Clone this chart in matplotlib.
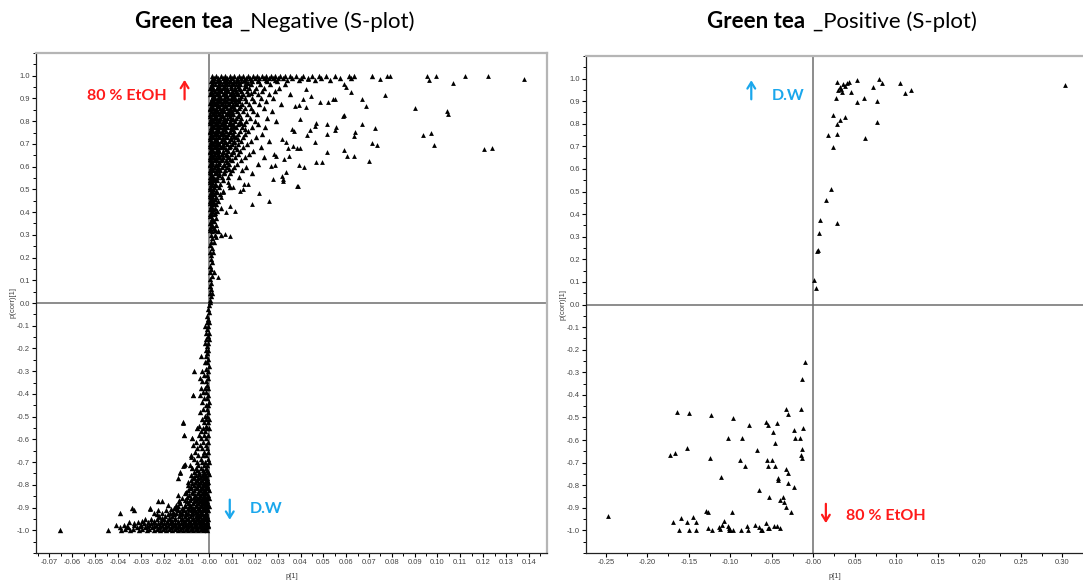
import matplotlib
matplotlib.use("Agg")
import matplotlib.pyplot as plt
from matplotlib.ticker import MultipleLocator, FixedLocator, FuncFormatter
import numpy as np

plt.rcParams['font.family'] = ['Liberation Sans', 'DejaVu Sans']

# ---------------- Negative mode: p[1] vs p(corr)[1] ----------------
# dense part of the S, read row by row as (p(corr)[1], [p[1] values])
neg_upper_rows = [
    (1.000, [.0010, .0030, .0050, .0070, .0090, .0110, .0130, .0150, .0170, .0190, .0210, .0230, .0250,
             .0270, .0290, .0310, .0330, .0355, .0382, .0410, .0450, .0483, .0512, .0550, .0612, .0634, .0712]),
    (0.991, [.0020, .0040, .0060, .0080, .0100, .0120, .0140, .0160, .0180, .0200, .0220, .0240, .0260,
             .0280, .0300, .0322, .0361, .0402, .0434, .0491, .0573, .0620]),
    (0.983, [.0012, .0041, .0068, .0093, .0121, .0152, .0181, .0213, .0249, .0288, .0339, .0392, .0462, .0528]),
    (0.975, [.0007, .0021, .0035, .0049, .0063, .0078, .0092, .0108, .0124, .0141, .0163, .0188, .0215, .0251, .0297]),
    (0.962, [.0012, .0026, .0041, .0056, .0070, .0086, .0101, .0119, .0137, .0158, .0182, .0224, .0268, .0331]),
    (0.948, [.0005, .0018, .0033, .0047, .0061, .0077, .0095, .0113, .0129, .0152, .0176, .0203, .0242, .0305]),
    (0.933, [.0009, .0024, .0039, .0053, .0068, .0084, .0099, .0118, .0141, .0167, .0196, .0231, .0288]),
    (0.918, [.0004, .0016, .0030, .0045, .0060, .0074, .0090, .0107, .0126, .0149, .0171, .0212, .0263, .0352]),
    (0.903, [.0011, .0025, .0038, .0052, .0066, .0081, .0097, .0115, .0135, .0158, .0189, .0226, .0279]),
    (0.889, [.0006, .0019, .0034, .0048, .0063, .0079, .0094, .0112, .0132, .0161, .0198, .0247]),
    (0.874, [.0010, .0023, .0037, .0051, .0067, .0083, .0104, .0121, .0144, .0173, .0219, .0316]),
    (0.860, [.0005, .0017, .0031, .0046, .0061, .0076, .0092, .0109, .0129, .0155, .0184, .0238]),
    (0.845, [.0009, .0022, .0036, .0050, .0066, .0085, .0101, .0123, .0147, .0192, .0274]),
    (0.831, [.0004, .0015, .0029, .0043, .0058, .0072, .0088, .0106, .0131, .0166, .0209]),
    (0.816, [.0008, .0021, .0034, .0049, .0064, .0080, .0097, .0117, .0140, .0178, .0253]),
    (0.802, [.0005, .0018, .0031, .0045, .0060, .0075, .0093, .0112, .0137, .0161, .0199, .0291]),
    (0.787, [.0010, .0024, .0038, .0053, .0069, .0086, .0104, .0128, .0152, .0214]),
    (0.773, [.0006, .0019, .0033, .0047, .0062, .0079, .0096, .0119, .0143, .0186, .0245]),
    (0.758, [.0003, .0015, .0028, .0042, .0057, .0073, .0090, .0110, .0134, .0171]),
    (0.744, [.0008, .0021, .0035, .0050, .0066, .0083, .0102, .0126, .0158, .0232]),
    (0.729, [.0005, .0017, .0031, .0045, .0060, .0077, .0095, .0117, .0149, .0203]),
    (0.715, [.0009, .0022, .0036, .0051, .0068, .0088, .0109, .0138, .0181, .0262]),
    (0.700, [.0004, .0016, .0029, .0044, .0059, .0076, .0098, .0124, .0167]),
    (0.686, [.0008, .0020, .0034, .0049, .0066, .0085, .0111, .0146, .0226]),
    (0.671, [.0005, .0017, .0030, .0045, .0062, .0081, .0104, .0137, .0193]),
    (0.657, [.0009, .0022, .0037, .0054, .0072, .0094, .0125, .0176]),
    (0.642, [.0004, .0015, .0029, .0044, .0061, .0083, .0112, .0158, .0241]),
    (0.628, [.0007, .0020, .0035, .0052, .0073, .0099, .0139]),
    (0.613, [.0003, .0014, .0028, .0043, .0063, .0088, .0121, .0214]),
    (0.599, [.0008, .0021, .0037, .0056, .0079, .0108, .0162]),
    (0.584, [.0004, .0016, .0031, .0049, .0071, .0098, .0142]),
    (0.570, [.0009, .0024, .0042, .0063, .0091, .0187]),
    (0.555, [.0005, .0018, .0035, .0056, .0083, .0129]),
    (0.540, [.0003, .0016, .0034, .0061]),
    (0.525, [.0008, .0025, .0049]),
    (0.510, [.0004, .0019, .0042, .0089]),
    (0.495, [.0011, .0031, .0062]),
    (0.480, [.0005, .0022, .0047]),
    (0.465, [.0009, .0028]),
    (0.450, [.0003, .0018, .0039]),
    (0.435, [.0012, .0031]),
    (0.420, [.0006, .0024, .0052]),
    (0.405, [.0010, .0036]),
    (0.390, [.0004, .0021]),
    (0.375, [.0013, .0030]),
    (0.360, [.0007, .0022]),
    (0.345, [.0011, .0028]),
    (0.330, [.0005, .0019]),
    (0.315, [.0012, .0038]),
    (0.300, [.0006, .0027, .0051]),
    (0.285, [.0014]),
    (0.270, [.0008, .0022]),
    (0.255, [.0005]),
    (0.240, [.0011]),
    (0.225, [.0004, .0016]),
    (0.210, [.0009]),
    (0.195, [.0006]),
    (0.180, [.0012]),
    (0.165, [.0004]),
    (0.150, [.0008]),
    (0.135, [.0005, .0019]),
    (0.120, [.0011]),
    (0.105, [.0003]),
    (0.090, [.0007]),
    (0.075, [.0004]),
    (0.060, [.0009]),
    (0.045, [.0005, .0012]),
    (0.030, [.0008]),
    (0.015, [.0002]),
    (0.005, [.0004]),
]

# the blackest part near p[1] = 0, rows lying between the rows above
neg_upper_fill = [
    (0.968, [.0014, .0044, .0073, .0102, .0131, .0171]),
    (0.955, [.0008, .0039, .0066, .0094, .0126, .0160]),
    (0.940, [.0016, .0046, .0075, .0108, .0134]),
    (0.926, [.0010, .0038, .0067, .0100, .0121, .0185]),
    (0.910, [.0018, .0045, .0073, .0104, .0141]),
    (0.896, [.0013, .0041, .0071, .0102, .0125]),
    (0.881, [.0003, .0030, .0058, .0087, .0116]),
    (0.867, [.0011, .0040, .0070, .0099, .0137]),
    (0.852, [.0002, .0028, .0057, .0093, .0115]),
    (0.838, [.0015, .0043, .0076, .0096]),
    (0.823, [.0002, .0027, .0056, .0089, .0125]),
    (0.809, [.0012, .0041, .0071, .0105]),
    (0.794, [.0003, .0031, .0061, .0095, .0140]),
    (0.780, [.0013, .0040, .0070, .0108]),
    (0.765, [.0009, .0036, .0065, .0100, .0155]),
    (0.751, [.0002, .0028, .0058, .0092]),
    (0.736, [.0012, .0041, .0072, .0108]),
    (0.722, [.0002, .0029, .0059, .0097, .0124]),
    (0.707, [.0010, .0037, .0068, .0110]),
    (0.693, [.0002, .0027, .0057, .0092]),
    (0.678, [.0011, .0039, .0072, .0121]),
    (0.664, [.0002, .0028, .0062, .0104]),
    (0.650, [.0011, .0041, .0076]),
    (0.635, [.0002, .0027, .0055, .0091]),
    (0.620, [.0011, .0042, .0080]),
    (0.606, [.0002, .0029, .0064]),
    (0.591, [.0011, .0040, .0087]),
    (0.577, [.0002, .0030, .0066]),
    (0.562, [.0012, .0044]),
    (0.547, [.0009, .0026]),
    (0.532, [.0002, .0014]),
    (0.518, [.0010, .0028]),
    (0.502, [.0002, .0015]),
    (0.488, [.0009, .0034]),
    (0.472, [.0002, .0014]),
    (0.457, [.0008, .0025]),
    (0.442, [.0002, .0019]),
    (0.428, [.0008]),
    (0.412, [.0002, .0015]),
    (0.397, [.0008, .0027]),
    (0.382, [.0003]),
    (0.367, [.0014]),
    (0.352, [.0004]),
    (0.337, [.0009]),
    (0.322, [.0003, .0024]),
]

neg_lower_rows = [
    (-0.010, [-.0003]),
    (-0.025, [-.0006]),
    (-0.040, [-.0002]),
    (-0.055, [-.0008]),
    (-0.070, [-.0004]),
    (-0.085, [-.0011, -.0002]),
    (-0.100, [-.0019, -.0006]),
    (-0.115, [-.0009]),
    (-0.130, [-.0014, -.0003]),
    (-0.145, [-.0007]),
    (-0.160, [-.0012, -.0002]),
    (-0.175, [-.0017, -.0006]),
    (-0.190, [-.0010]),
    (-0.205, [-.0015, -.0004]),
    (-0.220, [-.0008]),
    (-0.232, [-.0037, -.0013]),
    (-0.245, [-.0005]),
    (-0.260, [-.0018, -.0009]),
    (-0.275, [-.0003]),
    (-0.290, [-.0014]),
    (-0.299, [-.0066, -.0032, -.0007]),
    (-0.315, [-.0024, -.0011]),
    (-0.330, [-.0042, -.0004]),
    (-0.345, [-.0030, -.0015]),
    (-0.360, [-.0009]),
    (-0.375, [-.0036, -.0019, -.0004]),
    (-0.390, [-.0027, -.0012]),
    (-0.405, [-.0073, -.0040, -.0006]),
    (-0.420, [-.0021, -.0010]),
    (-0.435, [-.0033, -.0003]),
    (-0.450, [-.0016, -.0007]),
    (-0.465, [-.0028, -.0011]),
    (-0.480, [-.0041, -.0004]),
    (-0.495, [-.0019, -.0008]),
    (-0.510, [-.0032, -.0013, -.0002]),
    (-0.525, [-.0117, -.0025, -.0006]),
    (-0.540, [-.0044, -.0015]),
    (-0.551, [-.0052, -.0029, -.0009, -.0003]),
    (-0.565, [-.0037, -.0018]),
    (-0.580, [-.0111, -.0046, -.0023, -.0007]),
    (-0.596, [-.0076, -.0034, -.0012]),
    (-0.610, [-.0058, -.0026, -.0005]),
    (-0.625, [-.0069, -.0041, -.0016]),
    (-0.640, [-.0053, -.0031, -.0009]),
    (-0.655, [-.0062, -.0022, -.0004]),
    (-0.670, [-.0079, -.0047, -.0028, -.0013]),
    (-0.685, [-.0066, -.0038, -.0007]),
    (-0.700, [-.0055, -.0032, -.0018, -.0003]),
    (-0.712, [-.0112, -.0084, -.0049, -.0025, -.0010]),
    (-0.728, [-.0076, -.0059, -.0036, -.0015]),
    (-0.744, [-.0127, -.0068, -.0044, -.0021, -.0006]),
    (-0.758, [-.0081, -.0057, -.0032, -.0012]),
    (-0.772, [-.0139, -.0073, -.0048, -.0027, -.0008]),
    (-0.786, [-.0091, -.0062, -.0039, -.0017, -.0004]),
    (-0.801, [-.0092, -.0067, -.0044, -.0024, -.0011]),
    (-0.816, [-.0084, -.0058, -.0034, -.0016, -.0005]),
    (-0.830, [-.0103, -.0076, -.0051, -.0029, -.0012]),
    (-0.846, [-.0139, -.0088, -.0063, -.0041, -.0021, -.0007]),
    (-0.860, [-.0118, -.0079, -.0055, -.0033, -.0015, -.0003]),
    (-0.871, [-.0226, -.0209, -.0131, -.0097, -.0068, -.0046, -.0026, -.0010]),
    (-0.887, [-.0179, -.0147, -.0108, -.0084, -.0059, -.0037, -.0018, -.0006]),
    (-0.900, [-.0337, -.0258, -.0156, -.0121, -.0093, -.0071, -.0049, -.0029, -.0012]),
    (-0.912, [-.0330, -.0224, -.0189, -.0137, -.0109, -.0082, -.0061, -.0040, -.0021, -.0007]),
    (-0.924, [-.0389, -.0242, -.0205, -.0171, -.0146, -.0118, -.0094, -.0072, -.0051, -.0032, -.0014]),
    (-0.937, [-.0218, -.0193, -.0162, -.0134, -.0106, -.0083, -.0060, -.0041, -.0023, -.0008]),
    (-0.950, [-.0282, -.0256, -.0227, -.0198, -.0174, -.0149, -.0124, -.0101, -.0077, -.0056, -.0036,
              -.0018, -.0004]),
    (-0.963, [-.0353, -.0311, -.0268, -.0241, -.0213, -.0186, -.0161, -.0137, -.0113, -.0090, -.0068,
              -.0047, -.0027, -.0011]),
    (-0.975, [-.0408, -.0372, -.0329, -.0297, -.0262, -.0234, -.0207, -.0180, -.0155, -.0131, -.0108,
              -.0085, -.0063, -.0042, -.0022, -.0006]),
    (-0.987, [-.0391, -.0354, -.0318, -.0283, -.0251, -.0222, -.0195, -.0169, -.0144, -.0120, -.0097,
              -.0074, -.0052, -.0031, -.0013]),
    (-0.998, [-.0652, -.0443, -.0386, -.0345, -.0306, -.0274, -.0243, -.0214, -.0188, -.0162, -.0138,
              -.0114, -.0091, -.0069, -.0047, -.0026, -.0008]),
]

neg_lower_fill = [
    (-0.736, [-.0052, -.0028, -.0009]),
    (-0.751, [-.0045, -.0025, -.0003]),
    (-0.765, [-.0066, -.0040, -.0019]),
    (-0.779, [-.0081, -.0052, -.0030, -.0010]),
    (-0.794, [-.0076, -.0049, -.0028, -.0008]),
    (-0.808, [-.0079, -.0055, -.0033, -.0015]),
    (-0.823, [-.0095, -.0068, -.0040, -.0021, -.0003]),
    (-0.838, [-.0108, -.0072, -.0050, -.0030, -.0012]),
    (-0.853, [-.0098, -.0068, -.0046, -.0025, -.0009]),
    (-0.866, [-.0108, -.0086, -.0057, -.0036, -.0019]),
    (-0.880, [-.0128, -.0095, -.0071, -.0049, -.0027, -.0011]),
    (-0.894, [-.0135, -.0104, -.0081, -.0060, -.0039, -.0021, -.0003]),
    (-0.906, [-.0168, -.0143, -.0114, -.0088, -.0066, -.0044, -.0025, -.0009]),
    (-0.918, [-.0158, -.0127, -.0102, -.0077, -.0056, -.0035, -.0016]),
    (-0.930, [-.0230, -.0182, -.0155, -.0125, -.0100, -.0077, -.0055, -.0034, -.0015]),
    (-0.944, [-.0205, -.0178, -.0148, -.0120, -.0094, -.0070, -.0048, -.0029, -.0012]),
    (-0.957, [-.0295, -.0241, -.0211, -.0185, -.0161, -.0136, -.0111, -.0088, -.0066, -.0045, -.0026,
              -.0008]),
    (-0.969, [-.0331, -.0287, -.0253, -.0226, -.0199, -.0173, -.0148, -.0124, -.0101, -.0078, -.0056,
              -.0035, -.0016]),
    (-0.981, [-.0360, -.0305, -.0272, -.0244, -.0216, -.0189, -.0163, -.0138, -.0114, -.0091, -.0068,
              -.0046, -.0025, -.0007]),
    (-0.993, [-.0370, -.0334, -.0296, -.0262, -.0231, -.0203, -.0176, -.0150, -.0126, -.0103, -.0080,
              -.0058, -.0036, -.0017]),
]

# sparse points away from the dense branch, (p[1], p(corr)[1])
neg_scatter = [
    (0.0747, 0.984), (0.0778, 1.0), (0.0790, 1.0), (0.0953, 1.0), (0.0965, 0.981), (0.0992, 1.0),
    (0.1070, 0.969), (0.1120, 1.0), (0.1220, 1.0), (0.1380, 0.984),
    (0.0771, 0.916), (0.0902, 0.859), (0.1044, 0.843), (0.1047, 0.832), (0.0938, 0.740), (0.0973, 0.746),
    (0.0987, 0.696), (0.1206, 0.678), (0.1237, 0.682),
    (0.0728, 0.772), (0.0736, 0.697), (0.0715, 0.704), (0.0699, 0.625), (0.0687, 0.869), (0.0668, 0.896),
    (0.0668, 0.788), (0.0639, 0.751), (0.0633, 0.737), (0.0633, 0.649), (0.0604, 0.649), (0.0589, 0.672),
    (0.0623, 0.928), (0.0598, 0.950), (0.0589, 0.965),
    (0.0541, 0.896), (0.0550, 0.896), (0.0519, 0.884), (0.0484, 0.884), (0.0514, 0.788), (0.0517, 0.744),
    (0.0549, 0.763), (0.0554, 0.774), (0.0584, 0.825), (0.0590, 0.828), (0.0516, 0.666), (0.0494, 0.619),
    (0.0470, 0.619), (0.0462, 0.707), (0.0462, 0.781), (0.0467, 0.793), (0.0440, 0.763), (0.0430, 0.740),
    (0.0422, 0.943), (0.0434, 0.987), (0.0411, 0.899), (0.0446, 0.913), (0.0392, 0.872), (0.0424, 0.862),
    (0.0399, 0.810), (0.0415, 0.600), (0.0392, 0.609), (0.0391, 0.513), (0.0377, 0.869), (0.0364, 0.766),
    (0.0372, 0.759), (0.0345, 0.682), (0.0367, 0.693), (0.0383, 0.682), (0.0396, 0.682), (0.0320, 0.722),
    (0.0335, 0.707), (0.0328, 0.634), (0.0351, 0.649), (0.0335, 0.578), (0.0320, 0.560), (0.0323, 0.538),
    (0.0294, 0.649), (0.0282, 0.656), (0.0272, 0.604), (0.0288, 0.607),
    (0.0386, 0.515), (0.0323, 0.547), (0.0279, 0.547), (0.0261, 0.451), (0.0220, 0.482), (0.0188, 0.437),
    (0.0169, 0.525), (0.0154, 0.525), (0.0135, 0.491), (0.0147, 0.500), (0.0115, 0.407), (0.0073, 0.400),
    (0.0091, 0.429), (0.0088, 0.518), (0.0103, 0.510), (0.0081, 0.532), (0.0051, 0.466), (0.0059, 0.488),
    (0.0070, 0.304), (0.0093, 0.297), (0.0037, 0.319), (0.0029, 0.290), (0.0037, 0.116),
    (-0.0073, -0.404), (-0.0117, -0.526), (-0.0111, -0.581), (-0.0076, -0.596), (-0.0052, -0.551),
    (-0.0108, -0.709), (-0.0116, -0.716), (-0.0127, -0.750), (-0.0079, -0.676), (-0.0076, -0.728),
    (-0.0131, -0.868), (-0.0147, -0.897), (-0.0258, -0.907), (-0.0218, -0.941),
]

# ---------------- Positive mode ----------------
pos_upper = [
    (0.028, 0.985), (0.032, 0.962), (0.030, 0.951), (0.035, 0.940), (0.040, 0.981), (0.043, 0.984),
    (0.038, 0.969), (0.045, 0.940), (0.053, 0.993), (0.072, 0.962), (0.079, 0.999), (0.083, 0.981),
    (0.105, 0.981), (0.111, 0.937), (0.118, 0.950), (0.027, 0.915), (0.061, 0.915), (0.053, 0.897),
    (0.077, 0.900), (0.024, 0.838), (0.038, 0.829), (0.032, 0.816), (0.028, 0.801), (0.077, 0.806),
    (0.018, 0.749), (0.028, 0.756), (0.062, 0.735), (0.024, 0.699), (0.303, 0.972), (0.033, 0.955),
    (0.036, 0.975),
    (0.021, 0.512), (0.015, 0.464), (0.0084, 0.374), (0.029, 0.362), (0.0071, 0.317), (0.0059, 0.240),
    (0.0046, 0.235), (0.0008, 0.107), (0.0038, 0.075),
]

pos_lower = [
    (-0.010, -0.254), (-0.0139, -0.331),
    (-0.2475, -0.938), (-0.164, -0.474), (-0.1496, -0.481), (-0.1235, -0.487), (-0.0966, -0.503),
    (-0.078, -0.533), (-0.0571, -0.518), (-0.0546, -0.533), (-0.0433, -0.523), (-0.0324, -0.464),
    (-0.0303, -0.484), (-0.0143, -0.461), (-0.013, -0.545), (-0.0231, -0.554), (-0.0487, -0.564),
    (-0.0466, -0.614), (-0.1034, -0.593), (-0.0857, -0.592), (-0.0227, -0.593), (-0.016, -0.592),
    (-0.1727, -0.666), (-0.1672, -0.656), (-0.1517, -0.635), (-0.1244, -0.679), (-0.0685, -0.644),
    (-0.0559, -0.688), (-0.0504, -0.687), (-0.0546, -0.716), (-0.0458, -0.715), (-0.0878, -0.690),
    (-0.0824, -0.715), (-0.0143, -0.664), (-0.0134, -0.641), (-0.0134, -0.679), (-0.0328, -0.726),
    (-0.0311, -0.744), (-0.1118, -0.763), (-0.0424, -0.769), (-0.042, -0.778), (-0.0311, -0.790),
    (-0.0231, -0.806), (-0.066, -0.821), (-0.0529, -0.852), (-0.0361, -0.851), (-0.0349, -0.876),
    (-0.0403, -0.865), (-0.0324, -0.898), (-0.0269, -0.918), (-0.1294, -0.916), (-0.1269, -0.918),
    (-0.0979, -0.918), (-0.1697, -0.961), (-0.159, -0.945), (-0.1517, -0.961), (-0.1445, -0.939),
    (-0.1416, -0.961), (-0.1622, -0.997), (-0.1504, -0.998), (-0.1412, -0.997), (-0.1265, -0.989),
    (-0.1223, -0.998), (-0.1139, -0.985), (-0.1126, -0.994), (-0.1105, -0.975), (-0.1076, -0.960),
    (-0.1034, -0.980), (-0.1013, -0.988), (-0.1000, -0.998), (-0.0966, -0.998), (-0.1013, -0.998),
    (-0.0874, -0.998), (-0.0803, -0.980), (-0.0790, -0.997), (-0.0706, -0.977), (-0.0655, -0.985),
    (-0.0634, -0.997), (-0.0613, -1.0), (-0.0571, -0.969), (-0.0550, -0.988), (-0.0538, -0.991),
    (-0.0479, -0.980), (-0.0437, -0.980), (-0.0403, -0.988),
]

RED = '#ff1a1a'
BLUE = '#1aa7ec'
W, H = 1083, 586


def unpack_rows(rows):
    xs, ys = [], []
    for y, row in rows:
        xs += row
        ys += [y] * len(row)
    return xs, ys


def x_fmt(v, pos):
    if abs(v) < 1e-9:
        return '-0.00'
    return f'{v:.2f}'


def y_fmt(v, pos):
    if abs(v) < 1e-9:
        return '0.0'
    return f'{v:.1f}'


def style_axes(ax, xlim, xmajor, xminor):
    ax.set_xlim(*xlim)
    ax.set_ylim(-1.1, 1.1)
    ax.xaxis.set_major_locator(MultipleLocator(xmajor))
    ax.xaxis.set_minor_locator(MultipleLocator(xminor))
    ax.yaxis.set_major_locator(FixedLocator(np.round(np.arange(-1.0, 1.01, 0.1), 2)))
    ax.yaxis.set_minor_locator(MultipleLocator(0.05))
    ax.xaxis.set_major_formatter(FuncFormatter(x_fmt))
    ax.yaxis.set_major_formatter(FuncFormatter(y_fmt))
    ax.tick_params(which='major', direction='out', length=3, width=0.8, labelsize=5.5,
                   labelcolor='#444444', pad=1.5)
    ax.tick_params(which='minor', direction='out', length=2, width=0.7)
    for side in ['top', 'right']:
        ax.spines[side].set_color('#b5b5b5')
        ax.spines[side].set_linewidth(1.6)
    for side in ['left', 'bottom']:
        ax.spines[side].set_color('#222222')
        ax.spines[side].set_linewidth(0.9)
    ax.axhline(0, color='#6e6e6e', lw=1.1, zorder=1)
    ax.axvline(0, color='#6e6e6e', lw=1.1, zorder=1)
    ax.set_xlabel('p[1]', fontsize=5.5, color='#444444', labelpad=5)
    ax.set_ylabel('p(corr)[1]', fontsize=5.5, color='#444444', labelpad=0.5)


def scatter(ax, xs, ys, size=12):
    ax.scatter(xs, ys, marker='^', s=size, c='black', linewidths=0, zorder=3)


def arrow(ax, x, y0, y1, color):
    ax.annotate('', xy=(x, y1), xytext=(x, y0),
                arrowprops=dict(arrowstyle='->,head_length=0.45,head_width=0.28', color=color, lw=1.6))


fig = plt.figure(figsize=(W / 100, H / 100), dpi=100)

# left panel
ax1 = fig.add_axes([36 / W, 1 - 553 / H, (547 - 36) / W, (553 - 53) / H])
style_axes(ax1, (-0.0759, 0.148), 0.01, 0.005)
for rows in (neg_upper_rows, neg_upper_fill, neg_lower_rows, neg_lower_fill):
    xs, ys = unpack_rows(rows)
    scatter(ax1, xs, ys, size=15)
sx, sy = zip(*neg_scatter)
scatter(ax1, sx, sy)
ax1.text(-0.0187, 0.913, '80 % EtOH', color=RED, fontsize=11.5, fontweight='bold', family='Lato',
         ha='right', va='center')
arrow(ax1, -0.0108, 0.884, 0.994, RED)
ax1.text(0.0177, -0.907, 'D.W', color=BLUE, fontsize=11.5, fontweight='bold', family='Lato',
         ha='left', va='center')
arrow(ax1, 0.009, -0.853, -0.966, BLUE)

# right panel
ax2 = fig.add_axes([586 / W, 1 - 553 / H, (1083 - 586) / W, (553 - 56) / H])
style_axes(ax2, (-0.274, 0.325), 0.05, 0.025)
ax2.spines['right'].set_visible(False)
px, py = zip(*pos_upper)
scatter(ax2, px, py)
px, py = zip(*pos_lower)
scatter(ax2, px, py)
arrow(ax2, -0.0748, 0.896, 1.005, BLUE)
ax2.text(-0.0496, 0.922, 'D.W', color=BLUE, fontsize=11.5, fontweight='bold', family='Lato',
         ha='left', va='center')
arrow(ax2, 0.0151, -0.870, -0.980, RED)
ax2.text(0.0395, -0.936, '80 % EtOH', color=RED, fontsize=11.5, fontweight='bold', family='Lato',
         ha='left', va='center')

# titles: bold sample name + regular mode text
ty = 1 - 22 / H
fig.text(135 / W, ty, 'Green tea', fontsize=16, fontweight='bold', family='Lato', ha='left', va='center')
fig.text(240 / W, ty, '_Negative (S-plot)', fontsize=16, family='Lato', ha='left', va='center')
fig.text(707 / W, ty, 'Green tea', fontsize=16, fontweight='bold', family='Lato', ha='left', va='center')
fig.text(813 / W, ty, '_Positive (S-plot)', fontsize=16, family='Lato', ha='left', va='center')

fig.savefig('out.png', dpi=100)
